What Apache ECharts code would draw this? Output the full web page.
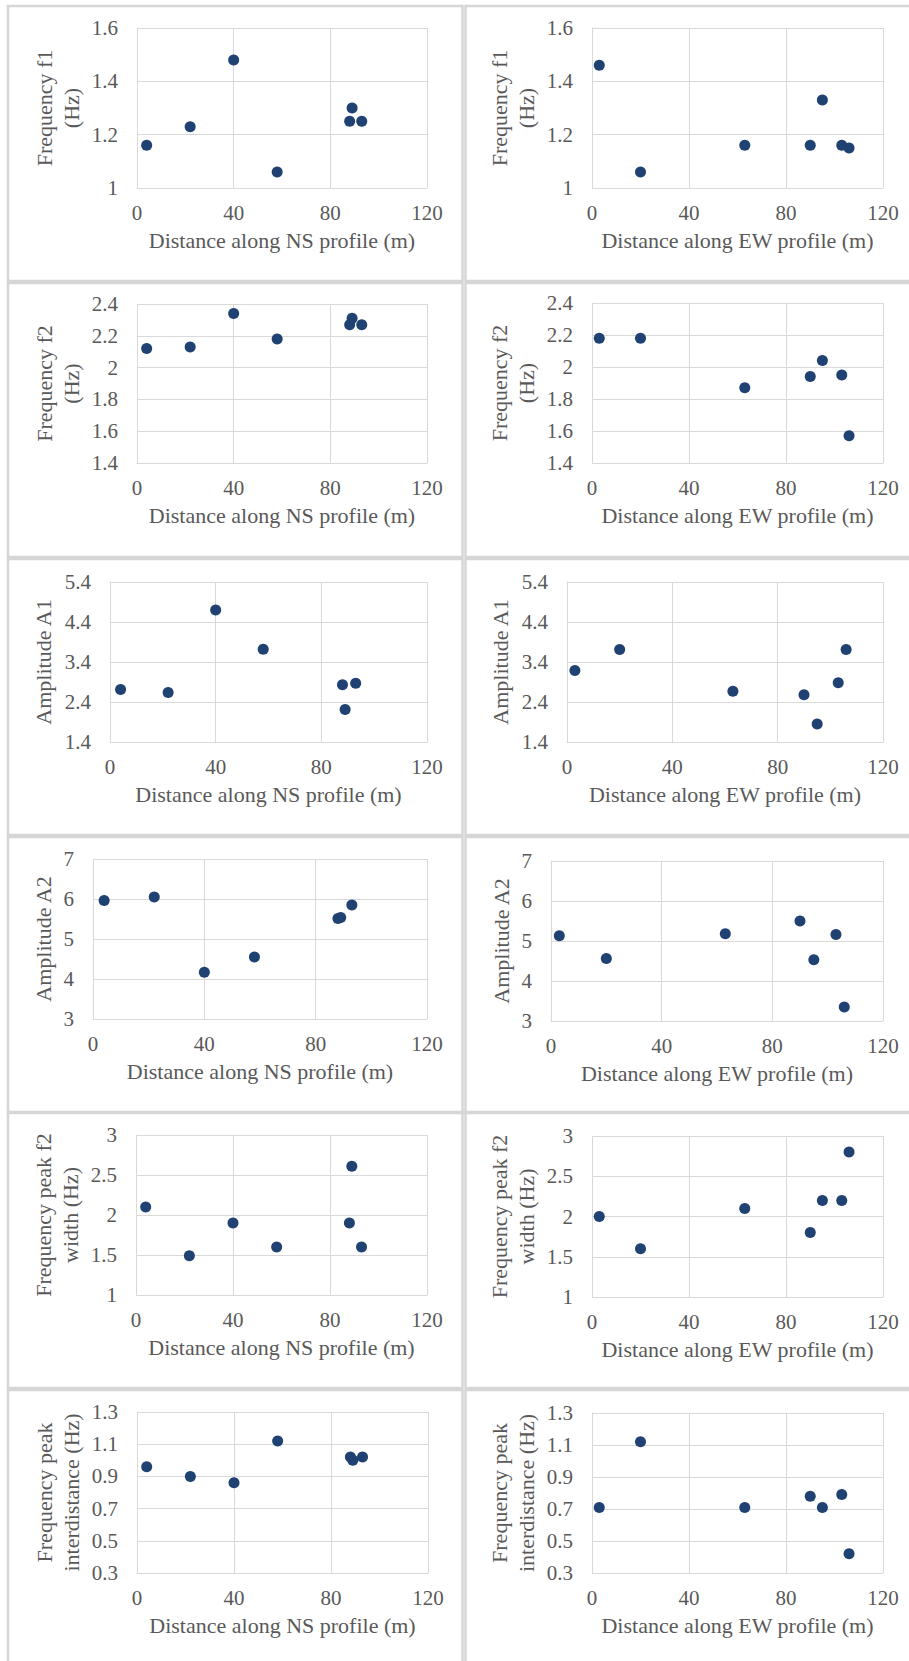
<!DOCTYPE html>
<html>
<head>
<meta charset="utf-8">
<script src="https://cdn.jsdelivr.net/npm/echarts@6/dist/echarts.min.js"></script>
<style>
html,body{margin:0;padding:0;background:#fff;}
#chart{width:909px;height:1661px;}
#chart text{font-family:'Liberation Serif','Times New Roman',serif !important;}
</style>
</head>
<body>
<div id="chart"></div>
<script>
// ---------- DATA ----------
const nsDistance = [4, 22, 40, 58, 88, 89, 93];
const ewDistance = [3, 20, 63, 90, 95, 103, 106];

const nsF1 = [1.16, 1.23, 1.48, 1.06, 1.25, 1.30, 1.25];
const ewF1 = [1.46, 1.06, 1.16, 1.16, 1.33, 1.16, 1.15];

const nsF2 = [2.12, 2.13, 2.34, 2.18, 2.27, 2.31, 2.27];
const ewF2 = [2.18, 2.18, 1.87, 1.94, 2.04, 1.95, 1.57];

const nsA1 = [2.71, 2.64, 4.70, 3.72, 2.83, 2.21, 2.87];
const ewA1 = [3.19, 3.71, 2.67, 2.58, 1.85, 2.88, 3.71];

const nsA2 = [5.96, 6.05, 4.17, 4.55, 5.51, 5.54, 5.85];
const ewA2 = [5.13, 4.56, 5.18, 5.50, 4.53, 5.16, 3.35];

const nsWidth = [2.1, 1.49, 1.9, 1.6, 1.9, 2.61, 1.6];
const ewWidth = [2.0, 1.6, 2.1, 1.8, 2.2, 2.2, 2.8];

const nsInter = [0.96, 0.90, 0.86, 1.12, 1.02, 1.00, 1.02];
const ewInter = [0.71, 1.12, 0.71, 0.78, 0.71, 0.79, 0.42];

const xTitleNS = 'Distance along NS profile (m)';
const xTitleEW = 'Distance along EW profile (m)';
const yTitles = [
  'Frequency f1\n(Hz)', 'Frequency f2\n(Hz)', 'Amplitude A1',
  'Amplitude A2', 'Frequency peak f2\nwidth (Hz)', 'Frequency peak\ninterdistance (Hz)'
];
const xTicks = {min: 0, max: 120, interval: 40};
const yTicks = [
  {min: 1, max: 1.6, interval: 0.2},
  {min: 1.4, max: 2.4, interval: 0.2},
  {min: 1.4, max: 5.4, interval: 1},
  {min: 3, max: 7, interval: 1},
  {min: 1, max: 3, interval: 0.5},
  {min: 0.3, max: 1.3, interval: 0.2}
];
const leftSeries = [nsF1, nsF2, nsA1, nsA2, nsWidth, nsInter];
const rightSeries = [ewF1, ewF2, ewA1, ewA2, ewWidth, ewInter];

// ---------- LAYOUT ----------
const gridBoxes = [
  [137, 28, 290, 160], [592, 28, 291, 160],
  [137, 304, 290, 159], [592, 303, 291, 160],
  [110, 582, 317, 160], [567, 582, 316, 160],
  [93, 859, 334, 160], [551, 861, 332, 160],
  [136, 1135, 291, 160], [592, 1136, 291, 161],
  [137, 1412, 291, 161], [592, 1413, 291, 160]
];
const yNameGaps = [52, 52, 52, 52, 53, 53, 36, 36, 52, 52, 52, 52];
const rowTops = [6, 283, 559, 837, 1112, 1390];
const rowBottoms = [281, 557, 835, 1113, 1388, 1700];

const FONT = "'Liberation Serif', 'Times New Roman', serif";
const TXT = '#595959';
const GRIDC = '#d9d9d9';
const DOT = '#1f4273';

const grids = [], xAxes = [], yAxes = [], series = [];
for (let i = 0; i < 12; i++) {
  const row = Math.floor(i / 2), col = i % 2;
  const b = gridBoxes[i];
  grids.push({left: b[0], top: b[1], width: b[2], height: b[3], containLabel: false});
  xAxes.push({
    type: 'value', gridIndex: i,
    min: xTicks.min, max: xTicks.max, interval: xTicks.interval,
    name: col === 0 ? xTitleNS : xTitleEW,
    nameLocation: 'middle', nameGap: 41,
    nameTextStyle: {fontFamily: FONT, fontSize: 22, color: TXT},
    axisLine: {show: true, lineStyle: {color: GRIDC, width: 1}},
    axisTick: {show: false},
    axisLabel: {fontFamily: FONT, fontSize: 21, color: TXT, margin: 14},
    splitLine: {show: true, lineStyle: {color: GRIDC, width: 1}}
  });
  const yt = yTicks[row];
  yAxes.push({
    type: 'value', gridIndex: i,
    min: yt.min, max: yt.max, interval: yt.interval,
    name: yTitles[row],
    nameLocation: 'middle', nameGap: yNameGaps[i], nameRotate: 90,
    nameTextStyle: {fontFamily: FONT, fontSize: 22, color: TXT, lineHeight: 27, align: 'center'},
    axisLine: {show: true, lineStyle: {color: GRIDC, width: 1}},
    axisTick: {show: false},
    axisLabel: {fontFamily: FONT, fontSize: 21, color: TXT, margin: 19},
    splitLine: {show: true, lineStyle: {color: GRIDC, width: 1}}
  });
  const xs = col === 0 ? nsDistance : ewDistance;
  const ys = col === 0 ? leftSeries[row] : rightSeries[row];
  series.push({
    type: 'scatter', xAxisIndex: i, yAxisIndex: i,
    symbol: 'circle', symbolSize: 11,
    itemStyle: {color: DOT, opacity: 1},
    data: xs.map((x, k) => [x, ys[k]])
  });
}

// panel frames
const graphics = [];
const colX = [[8, 462.5], [465.5, 930]];
for (let r = 0; r < 6; r++) {
  for (let c = 0; c < 2; c++) {
    graphics.push({
      type: 'rect', silent: true, z: -10,
      shape: {x: colX[c][0], y: rowTops[r], width: colX[c][1] - colX[c][0], height: rowBottoms[r] - rowTops[r]},
      style: {fill: 'none', stroke: '#d6d6d6', lineWidth: 2.5}
    });
  }
}

const chart = echarts.init(document.getElementById('chart'), null, {renderer: 'svg', width: 909, height: 1661});
chart.setOption({
  animation: false,
  backgroundColor: '#ffffff',
  textStyle: {fontFamily: FONT},
  grid: grids, xAxis: xAxes, yAxis: yAxes, series: series,
  graphic: graphics
});
</script>
</body>
</html>
